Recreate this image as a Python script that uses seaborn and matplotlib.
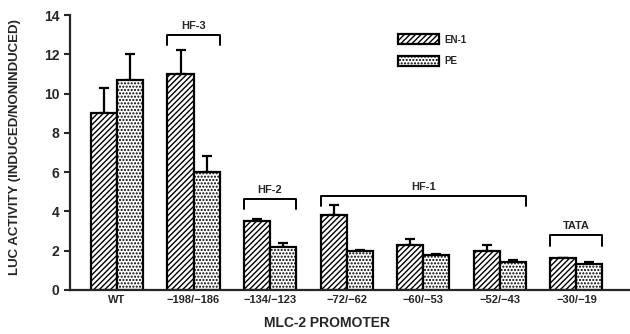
import numpy as np
import pandas as pd
import matplotlib
matplotlib.use('Agg')
import matplotlib.pyplot as plt
import seaborn as sns

# values
promoters = ['WT', '−198/−186', '−134/−123', '−72/−62', '−60/−53', '−52/−43', '−30/−19']
en1 = [9.0, 11.0, 3.5, 3.8, 2.3, 2.0, 1.6]
en1_err = [1.3, 1.2, 0.1, 0.55, 0.3, 0.3, 0.05]
pe = [10.7, 6.0, 2.2, 2.0, 1.8, 1.4, 1.3]
pe_err = [1.3, 0.8, 0.2, 0.05, 0.05, 0.1, 0.1]

# brackets: (label, first promoter, last promoter, height)
brackets = [('HF-3', 1, 1, 13.0), ('HF-2', 2, 2, 4.65), ('HF-1', 3, 5, 4.8), ('TATA', 6, 6, 2.8)]

sns.set_style('ticks')
plt.rcParams['font.family'] = ['Liberation Sans', 'DejaVu Sans']
plt.rcParams['font.weight'] = 'bold'
plt.rcParams['hatch.linewidth'] = 1.0

df = pd.DataFrame({
    'promoter': promoters * 2,
    'value': en1 + pe,
    'err': en1_err + pe_err,
    'treat': ['EN-1'] * len(promoters) + ['PE'] * len(promoters),
})

fig = plt.figure(figsize=(6.3, 3.34), dpi=100)
ax = fig.add_axes([0.111, 0.132, 0.889, 0.823])

sns.barplot(data=df, x='promoter', y='value', hue='treat', order=promoters,
            hue_order=['EN-1', 'PE'], palette=['white', 'white'], width=0.68,
            errorbar=None, edgecolor='black', linewidth=1.6, ax=ax)

hatches = {'EN-1': '//////', 'PE': '.....'}
n = len(promoters)
bars = [p for p in ax.patches if p.get_height() > 0][:2 * n]
for i, b in enumerate(bars):
    treat = 'EN-1' if i < n else 'PE'
    b.set_hatch(hatches[treat])
    b.set_zorder(2)
    xc = b.get_x() + b.get_width() / 2
    err = df['err'].iloc[i]
    ax.errorbar(xc, b.get_height(), yerr=[[0], [err]], color='black',
                capsize=3.8, elinewidth=1.6, capthick=1.6, zorder=1)

for label, a, c, h in brackets:
    x0 = a - 0.34
    x1 = c + 0.34
    ax.plot([x0, x0, x1, x1], [h - 0.55, h, h, h - 0.55], color='black', lw=1.4)
    ax.text((x0 + x1) / 2, h + 0.2, label, ha='center', va='bottom',
            fontsize=8, fontweight='bold')

ax.set_xlim(-0.614, 6.7)
ax.set_ylim(0, 14)
ax.set_yticks(range(0, 15, 2))
ax.tick_params(axis='y', labelsize=10, width=1.5, length=4)
ax.tick_params(axis='x', length=0, labelsize=8, pad=4)
for lab in ax.get_xticklabels() + ax.get_yticklabels():
    lab.set_fontweight('bold')
sns.despine(ax=ax)
ax.spines['left'].set_linewidth(1.6)
ax.spines['bottom'].set_linewidth(1.6)

ax.set_xlabel('MLC-2 PROMOTER', fontsize=10, fontweight='bold')
ax.xaxis.set_label_coords(0.459, -0.095)
ax.set_ylabel('LUC ACTIVITY (INDUCED/NONINDUCED)', fontsize=9.5, fontweight='bold')
ax.yaxis.set_label_coords(-0.088, 0.52)

leg = ax.legend(loc='upper left', bbox_to_anchor=(0.585, 0.93), frameon=False,
                fontsize=7, handlelength=4.3, handleheight=1.2, labelspacing=1.2,
                handletextpad=0.5, borderaxespad=0, borderpad=0)
for h, key in zip(leg.legend_handles, ['EN-1', 'PE']):
    h.set_hatch(hatches[key])
    h.set_edgecolor('black')
    h.set_linewidth(1.6)
for t in leg.get_texts():
    t.set_fontweight('bold')

fig.savefig('out.png', dpi=100)
